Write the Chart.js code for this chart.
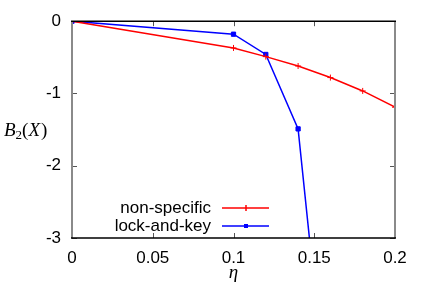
<!DOCTYPE html>
<html lang="en">
<head>
  <meta charset="UTF-8" />
  <title>B2(X) vs eta</title>
  <script src="https://cdn.jsdelivr.net/npm/chart.js"></script>
  <style>
    html, body { margin: 0; padding: 0; background: #fff; }
    #wrap { width: 436px; height: 292px; position: relative; }
  </style>
</head>
<body>
  <div id="wrap"><canvas id="b2Chart"></canvas></div>

  <script>
    // Data
    const etaNonSpecific = [0, 0.1, 0.12, 0.14, 0.16, 0.18, 0.2];
    const b2NonSpecific = [0, -0.37, -0.49, -0.62, -0.78, -0.965, -1.19];
    const etaLockKey = [0, 0.1, 0.12, 0.14, 0.16];
    const b2LockKey = [0, -0.18, -0.46, -1.49, -5.8];
    const seriesNames = ['non-specific', 'lock-and-key'];
    const xTicks = [0, 0.05, 0.1, 0.15, 0.2];
    const yTicks = [0, -1, -2, -3];

    const toPoints = (xs, ys) => xs.map((x, i) => ({ x: x, y: ys[i] }));

    const labelFont = '17px "Liberation Sans", Arial, sans-serif';

    // gnuplot-like frame, inward ticks, key and axis titles
    const gnuplotLook = {
      id: 'gnuplotLook',
      afterDatasetsDraw(chart) {
        const ctx = chart.ctx;
        const a = chart.chartArea;
        const xs = chart.scales.x, ys = chart.scales.y;
        ctx.save();

        // inward ticks
        ctx.strokeStyle = '#555';
        ctx.lineWidth = 1;
        ctx.beginPath();
        xTicks.forEach(v => {
          const px = Math.round(xs.getPixelForValue(v)) + 0.5;
          ctx.moveTo(px, a.bottom); ctx.lineTo(px, a.bottom - 5);
          ctx.moveTo(px, a.top); ctx.lineTo(px, a.top + 5);
        });
        yTicks.forEach(v => {
          const py = Math.round(ys.getPixelForValue(v)) + 0.5;
          ctx.moveTo(a.left, py); ctx.lineTo(a.left + 5, py);
          ctx.moveTo(a.right, py); ctx.lineTo(a.right - 5, py);
        });
        ctx.stroke();

        // frame: grey sides, black top and bottom
        ctx.lineWidth = 2;
        ctx.strokeStyle = '#8a8a8a';
        ctx.beginPath();
        ctx.moveTo(a.left, a.top); ctx.lineTo(a.left, a.bottom);
        ctx.moveTo(a.right, a.top); ctx.lineTo(a.right, a.bottom);
        ctx.stroke();
        ctx.lineWidth = 1.5;
        ctx.strokeStyle = '#000';
        ctx.beginPath();
        ctx.moveTo(a.left - 1, a.top); ctx.lineTo(a.right + 1, a.top);
        ctx.moveTo(a.left - 1, a.bottom); ctx.lineTo(a.right + 1, a.bottom);
        ctx.stroke();

        // key, text on the left and sample on the right
        const textRight = a.left + 139;
        const rows = [a.bottom - 30, a.bottom - 12];
        ctx.font = labelFont;
        ctx.textAlign = 'right';
        ctx.textBaseline = 'middle';
        chart.data.datasets.forEach((ds, i) => {
          const y = rows[i];
          ctx.fillStyle = '#000';
          ctx.fillText(ds.label, textRight, y);
          ctx.strokeStyle = ds.borderColor;
          ctx.lineWidth = 1.5;
          ctx.beginPath();
          ctx.moveTo(textRight + 11, y);
          ctx.lineTo(textRight + 58, y);
          ctx.stroke();
          const mx = textRight + 35;
          ctx.fillStyle = ds.borderColor;
          if (ds.pointStyle === 'rect') {
            ctx.fillRect(mx - 2, y - 2, 4, 4);
          } else {
            ctx.beginPath();
            ctx.moveTo(mx, y - 3); ctx.lineTo(mx, y + 3);
            ctx.stroke();
          }
        });

        // y title  B_2(X)
        const serif = '"Liberation Serif", "DejaVu Serif", serif';
        const ty = (a.top + a.bottom) / 2 + 6;
        let tx = 4;
        ctx.fillStyle = '#000';
        ctx.textAlign = 'left';
        ctx.textBaseline = 'alphabetic';
        const piece = (txt, font, dy) => {
          ctx.font = font;
          ctx.fillText(txt, tx, ty + (dy || 0));
          tx += ctx.measureText(txt).width;
        };
        piece('B', 'italic 19px ' + serif);
        piece('2', '13px ' + serif, 3);
        piece('(', '19px ' + serif);
        piece('X', 'italic 19px ' + serif);
        tx += 1;
        piece(')', '19px ' + serif);

        // x title  eta
        ctx.font = 'italic 19px ' + serif;
        ctx.textAlign = 'center';
        ctx.fillText('\u03b7', (a.left + a.right) / 2, a.bottom + 40);

        ctx.restore();
      }
    };

    new Chart(document.getElementById('b2Chart'), {
      type: 'line',
      data: {
        datasets: [
          {
            label: seriesNames[0],
            data: toPoints(etaNonSpecific, b2NonSpecific),
            borderColor: '#ff0000',
            backgroundColor: '#ff0000',
            borderWidth: 1.5,
            pointStyle: 'cross',
            pointRadius: 3,
            pointBorderWidth: 1,
            tension: 0
          },
          {
            label: seriesNames[1],
            data: toPoints(etaLockKey, b2LockKey),
            borderColor: '#0000ff',
            backgroundColor: '#0000ff',
            borderWidth: 1.5,
            pointStyle: 'rect',
            pointRadius: 3,
            pointBorderWidth: 1,
            tension: 0
          }
        ]
      },
      options: {
        responsive: true,
        maintainAspectRatio: false,
        animation: false,
        layout: { padding: { left: 0, right: 41, top: 12, bottom: 0 } },
        plugins: {
          legend: { display: false },
          tooltip: { enabled: false }
        },
        scales: {
          x: {
            type: 'linear',
            min: 0,
            max: 0.2,
            afterBuildTicks: s => { s.ticks = xTicks.map(v => ({ value: v })); },
            afterFit: s => { s.height = 54; },
            grid: { display: false, drawTicks: false },
            border: { display: false },
            ticks: {
              color: '#000', padding: 10, maxRotation: 0,
              font: { family: '"Liberation Sans", Arial, sans-serif', size: 17 },
              callback: v => String(+v.toFixed(2))
            }
          },
          y: {
            type: 'linear',
            min: -3,
            max: 0,
            afterBuildTicks: s => { s.ticks = yTicks.map(v => ({ value: v })); },
            afterFit: s => { s.width = 72; },
            grid: { display: false, drawTicks: false },
            border: { display: false },
            ticks: {
              color: '#000', padding: 11,
              font: { family: '"Liberation Sans", Arial, sans-serif', size: 17 },
              callback: v => String(v)
            }
          }
        }
      },
      plugins: [gnuplotLook]
    });
  </script>
</body>
</html>
